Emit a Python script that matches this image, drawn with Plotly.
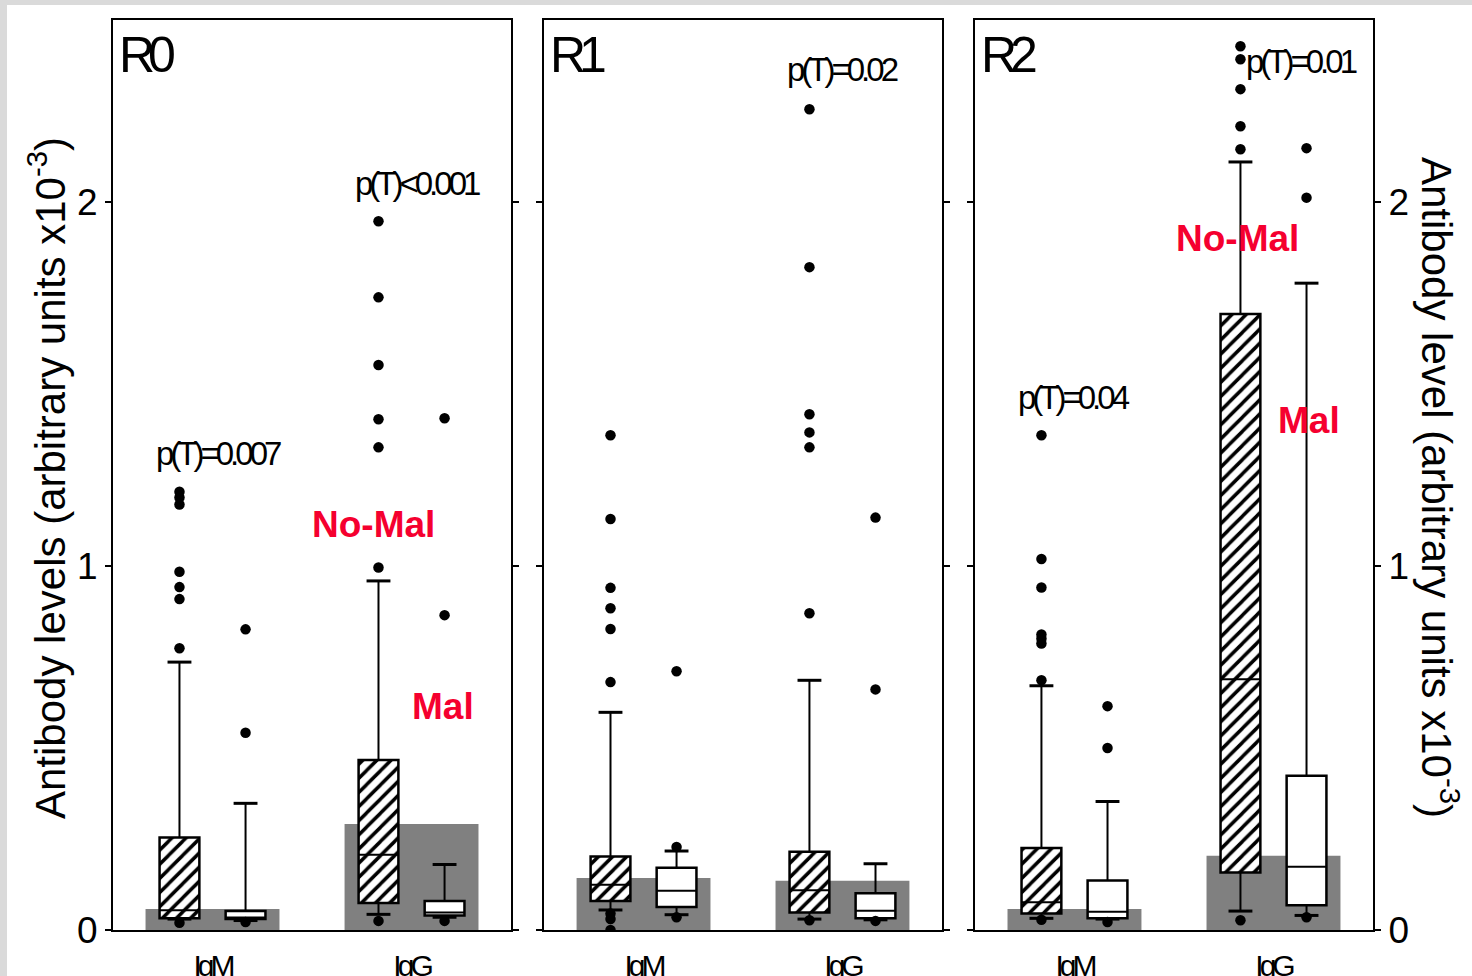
import plotly.graph_objects as go

# ---------------- data ----------------
panels = ["R0", "R1", "R2"]
isotypes = ["IgM", "IgG"]
tick_vals = [0, 1, 2]

# grey background bars (one per isotype, per panel)
grey_R0 = [0.058, 0.291]
grey_R1 = [0.143, 0.135]
grey_R2 = [0.058, 0.204]

# box statistics, order: [IgM, IgG]; "nomal" = hatched, "mal" = white
nomal_R0_lo = [0.030, 0.043]
nomal_R0_q1 = [0.032, 0.074]
nomal_R0_med = [0.054, 0.207]
nomal_R0_q3 = [0.254, 0.467]
nomal_R0_hi = [0.736, 0.959]
nomal_R0_out = [[1.204, 1.188, 1.169, 0.984, 0.942, 0.909, 0.774, 0.020],
                [1.947, 1.738, 1.552, 1.403, 1.326, 0.996, 0.025]]
mal_R0_lo = [0.026, 0.035]
mal_R0_q1 = [0.030, 0.040]
mal_R0_med = [0.034, 0.048]
mal_R0_q3 = [0.052, 0.080]
mal_R0_hi = [0.348, 0.180]
mal_R0_out = [[0.826, 0.542, 0.022], [1.406, 0.865, 0.025]]

nomal_R1_lo = [0.055, 0.030]
nomal_R1_q1 = [0.080, 0.048]
nomal_R1_med = [0.124, 0.109]
nomal_R1_q3 = [0.202, 0.215]
nomal_R1_hi = [0.598, 0.686]
nomal_R1_out = [[1.359, 1.129, 0.940, 0.884, 0.827, 0.681, 0.045, 0.030, 0.000],
                [2.255, 1.821, 1.417, 1.367, 1.326, 0.870, 0.027]]
mal_R1_lo = [0.042, 0.028]
mal_R1_q1 = [0.063, 0.032]
mal_R1_med = [0.108, 0.053]
mal_R1_q3 = [0.171, 0.101]
mal_R1_hi = [0.217, 0.182]
mal_R1_out = [[0.711, 0.228, 0.035], [1.133, 0.661, 0.025]]

nomal_R2_lo = [0.032, 0.052]
nomal_R2_q1 = [0.045, 0.158]
nomal_R2_med = [0.076, 0.689]
nomal_R2_q3 = [0.225, 1.692]
nomal_R2_hi = [0.671, 2.110]
nomal_R2_out = [[1.359, 1.019, 0.941, 0.812, 0.800, 0.787, 0.686, 0.028],
                [2.428, 2.392, 2.310, 2.208, 2.145, 0.027]]
mal_R2_lo = [0.030, 0.040]
mal_R2_q1 = [0.032, 0.068]
mal_R2_med = [0.050, 0.174]
mal_R2_q3 = [0.136, 0.424]
mal_R2_hi = [0.353, 1.777]
mal_R2_out = [[0.615, 0.500, 0.022], [2.148, 2.012, 0.035]]

# p-value labels: (panel, text, x, y)
p_labels = [("R0", "p(T)=0.007", 1.03, 1.31), ("R0", "p(T)<0.001", 2.03, 2.05),
            ("R1", "p(T)=0.02", 2.00, 2.365),
            ("R2", "p(T)=0.04", 1.00, 1.464), ("R2", "p(T)=0.01", 2.14, 2.387)]
group_labels = [("R0", "No-Mal", 1.807, 1.115), ("R0", "Mal", 2.158, 0.615),
                ("R2", "No-Mal", 1.82, 1.90), ("R2", "Mal", 2.18, 1.40)]

data = {
    "R0": dict(grey=grey_R0,
               nomal=(nomal_R0_lo, nomal_R0_q1, nomal_R0_med, nomal_R0_q3, nomal_R0_hi, nomal_R0_out),
               mal=(mal_R0_lo, mal_R0_q1, mal_R0_med, mal_R0_q3, mal_R0_hi, mal_R0_out)),
    "R1": dict(grey=grey_R1,
               nomal=(nomal_R1_lo, nomal_R1_q1, nomal_R1_med, nomal_R1_q3, nomal_R1_hi, nomal_R1_out),
               mal=(mal_R1_lo, mal_R1_q1, mal_R1_med, mal_R1_q3, mal_R1_hi, mal_R1_out)),
    "R2": dict(grey=grey_R2,
               nomal=(nomal_R2_lo, nomal_R2_q1, nomal_R2_med, nomal_R2_q3, nomal_R2_hi, nomal_R2_out),
               mal=(mal_R2_lo, mal_R2_q1, mal_R2_med, mal_R2_q3, mal_R2_hi, mal_R2_out)),
}

# ---------------- styling ----------------
REG = "Liberation Sans, Arial, sans-serif"
RED = "#f5002f"
GREY = "#808080"
x_cat = [1, 2]
offset = 0.166
box_w = 0.2
cap_half = 0.06


def tight(t, px):
    return f'<span style="letter-spacing:{px}px">{t}</span>'


fig = go.Figure()
domains = [[0.0, 0.3159], [0.3421, 0.6579], [0.6841, 1.0]]

for i, p in enumerate(panels):
    xa = "x" if i == 0 else f"x{i+1}"
    ya = "y" if i == 0 else f"y{i+1}"
    d = data[p]
    fig.add_trace(go.Bar(x=x_cat, y=d["grey"], width=0.673, xaxis=xa, yaxis=ya,
                         marker=dict(color=GREY, line=dict(width=0)), hoverinfo="skip"))
    for kind, sgn in (("nomal", -1), ("mal", 1)):
        lo, q1, med, q3, hi, out = d[kind]
        xs = [c + sgn * offset for c in x_cat]
        if kind == "nomal":
            marker = dict(color="white", line=dict(color="black", width=2.5),
                          pattern=dict(shape="/", fgcolor="black", bgcolor="white",
                                       fgopacity=1, size=10, solidity=0.35))
        else:
            marker = dict(color="white", line=dict(color="black", width=2.5))
        fig.add_trace(go.Bar(x=xs, y=[b - a for a, b in zip(q1, q3)], base=q1,
                             width=box_w, xaxis=xa, yaxis=ya, marker=marker))
        # whiskers, caps and medians
        wx, wy = [], []
        for j, xc in enumerate(xs):
            wx += [xc, xc, None, xc, xc, None]
            wy += [q3[j], hi[j], None, q1[j], lo[j], None]
        fig.add_trace(go.Scatter(x=wx, y=wy, mode="lines", xaxis=xa, yaxis=ya,
                                 line=dict(color="black", width=2), hoverinfo="skip"))
        cx, cy = [], []
        for j, xc in enumerate(xs):
            cx += [xc - cap_half, xc + cap_half, None, xc - cap_half, xc + cap_half, None]
            cy += [hi[j], hi[j], None, lo[j], lo[j], None]
        fig.add_trace(go.Scatter(x=cx, y=cy, mode="lines", xaxis=xa, yaxis=ya,
                                 line=dict(color="black", width=3), hoverinfo="skip"))
        mx, my = [], []
        for j, xc in enumerate(xs):
            mx += [xc - box_w / 2, xc + box_w / 2, None]
            my += [med[j], med[j], None]
        fig.add_trace(go.Scatter(x=mx, y=my, mode="lines", xaxis=xa, yaxis=ya,
                                 line=dict(color="black", width=2), hoverinfo="skip"))
        ox, oy = [], []
        for j, xc in enumerate(xs):
            ox += [xc] * len(out[j])
            oy += out[j]
        fig.add_trace(go.Scatter(x=ox, y=oy, mode="markers", xaxis=xa, yaxis=ya,
                                 marker=dict(color="black", size=10.5), hoverinfo="skip"))

layout = dict(
    width=1472, height=976,
    margin=dict(l=113, r=99, t=20, b=46, autoexpand=False),
    barmode="overlay", showlegend=False,
    paper_bgcolor="white", plot_bgcolor="white",
)
for i in range(3):
    xk = "xaxis" if i == 0 else f"xaxis{i+1}"
    yk = "yaxis" if i == 0 else f"yaxis{i+1}"
    ya = "y" if i == 0 else f"y{i+1}"
    xa = "x" if i == 0 else f"x{i+1}"
    layout[xk] = dict(domain=domains[i], anchor=ya, range=[0.5, 2.5],
                      tickvals=x_cat, ticktext=[tight(t, -4) for t in isotypes], ticks="",
                      ticklabelstandoff=8,
                      showline=True, linecolor="black", linewidth=2, mirror=True,
                      showgrid=False, zeroline=False,
                      tickfont=dict(family=REG, size=30, color="black"))
    layout[yk] = dict(anchor=xa, range=[0, 2.5], tickvals=tick_vals,
                      ticktext=[str(v) for v in tick_vals],
                      ticks="outside", ticklen=6, tickwidth=2, tickcolor="black",
                      showline=True, linecolor="black", linewidth=2, mirror="ticks",
                      showgrid=False, zeroline=False,
                      showticklabels=(i != 1), side=("right" if i == 2 else "left"),
                      tickfont=dict(family=REG, size=37, color="black"))
fig.update_layout(**layout)

ann = []
for i, p in enumerate(panels):
    xa = "x" if i == 0 else f"x{i+1}"
    ann.append(dict(text=tight(p, -7), xref=f"{xa} domain", yref="paper", x=0.01, y=0.994,
                    xanchor="left", yanchor="top", showarrow=False,
                    font=dict(family=REG, size=50, color="black")))
for p, t, x, y in p_labels:
    i = panels.index(p)
    xa = "x" if i == 0 else f"x{i+1}"
    ya = "y" if i == 0 else f"y{i+1}"
    ann.append(dict(text=tight(t, -4), xref=xa, yref=ya, x=x, y=y, showarrow=False,
                    font=dict(family=REG, size=33, color="black")))
for p, t, x, y in group_labels:
    i = panels.index(p)
    xa = "x" if i == 0 else f"x{i+1}"
    ya = "y" if i == 0 else f"y{i+1}"
    ann.append(dict(text=f"<b>{t}</b>", xref=xa, yref=ya, x=x, y=y, showarrow=False,
                    font=dict(family=REG, size=37, color=RED)))
ann.append(dict(text="Antibody levels (arbitrary units x10<sup>-3</sup>)", textangle=-90,
                xref="paper", yref="paper", x=(47 - 113) / 1260, y=(930 - 478) / 910,
                xanchor="center", yanchor="middle", showarrow=False,
                font=dict(family=REG, size=42, color="black")))
ann.append(dict(text="Antibody level (arbitrary units x10<sup>-3</sup>)", textangle=90,
                xref="paper", yref="paper", x=(1440 - 113) / 1260, y=(930 - 487) / 910,
                xanchor="center", yanchor="middle", showarrow=False,
                font=dict(family=REG, size=42, color="black")))
fig.update_layout(annotations=ann)

# light grey frame at top and left edges of the picture
fig.add_shape(type="rect", xref="paper", yref="paper", x0=-113 / 1260, x1=(1472 - 113) / 1260,
              y0=1 + 15 / 910, y1=1 + 20 / 910, fillcolor="#dadada", line=dict(width=0))
fig.add_shape(type="rect", xref="paper", yref="paper", x0=-113 / 1260, x1=(7 - 113) / 1260,
              y0=-46 / 910, y1=1 + 20 / 910, fillcolor="#dadada", line=dict(width=0))

fig.write_html("out.html", config={"displayModeBar": False},
               post_script="document.body.style.margin='0';document.body.style.padding='0';"
                           "document.body.style.overflow='hidden';")
